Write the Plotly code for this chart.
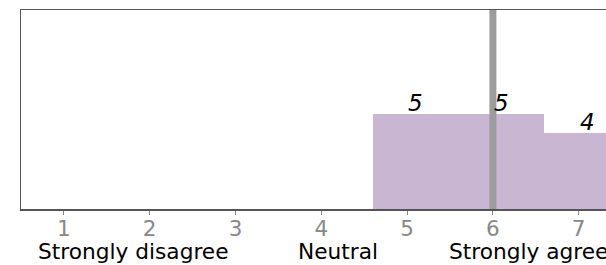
import plotly.graph_objects as go

# Data
scale_points = [1, 2, 3, 4, 5, 6, 7]
tick_labels = ["1", "2", "3", "4", "5", "6", "7"]
bar_positions = [5, 6, 7]
bar_counts = [5, 5, 4]
marker_value = 6
anchor_labels = ["Strongly disagree", "Neutral", "Strongly agree"]
anchor_label_x = [0.67, 3.71, 5.46]

BAR_COLOR = "#c8b6d2"
LINE_COLOR = "#9c9c9c"
FONT = "DejaVu Sans"

fig = go.Figure()
fig.add_trace(go.Bar(
    x=bar_positions, y=bar_counts, width=1.0, offset=-0.4,
    marker=dict(color=BAR_COLOR, line=dict(width=0)),
    hoverinfo="skip", showlegend=False,
))

# count labels centered on bars
for xv, c in zip(bar_positions, bar_counts):
    fig.add_annotation(x=xv + 0.1, y=c, xref="x", yref="y", text=str(c),
                       showarrow=False, yanchor="bottom", yshift=-4,
                       font=dict(family=FONT, size=23, color="black", style="italic"))

fig.add_shape(type="line", x0=marker_value, x1=marker_value, y0=0, y1=1,
              xref="x", yref="paper", line=dict(color=LINE_COLOR, width=7), layer="above")

for lab, xv in zip(anchor_labels, anchor_label_x):
    fig.add_annotation(x=xv, y=0, xref="x", yref="paper", text=lab, showarrow=False,
                       xanchor="left", yanchor="top", yshift=-28,
                       font=dict(family=FONT, size=21.7, color="black"))

fig.update_layout(
    width=606, height=265,
    margin=dict(l=21, r=0, t=10, b=56),
    paper_bgcolor="white", plot_bgcolor="white",
    font=dict(family=FONT),
    bargap=0,
)
fig.update_xaxes(
    range=[0.5, 7.318], tickvals=scale_points, ticktext=tick_labels,
    tickfont=dict(family=FONT, size=21.5, color="#888888"),
    ticks="outside", ticklen=4, tickcolor="#888888", tickwidth=1,
    ticklabelstandoff=-4,
    showline=True, linecolor="#555555", linewidth=1.5, mirror=True,
    showgrid=False, zeroline=False,
)
fig.update_yaxes(
    range=[0, 10.47], showticklabels=False, ticks="",
    showline=True, linecolor="#555555", linewidth=1.5, mirror=False,
    showgrid=False, zeroline=False,
)

fig.write_html(
    "out.html",
    config={"displayModeBar": False, "staticPlot": True},
    post_script=(
        "document.documentElement.style.margin='0';"
        "document.body.style.margin='0';"
        "document.body.style.overflow='hidden';"
        "document.documentElement.style.overflow='hidden';"
    ),
)
